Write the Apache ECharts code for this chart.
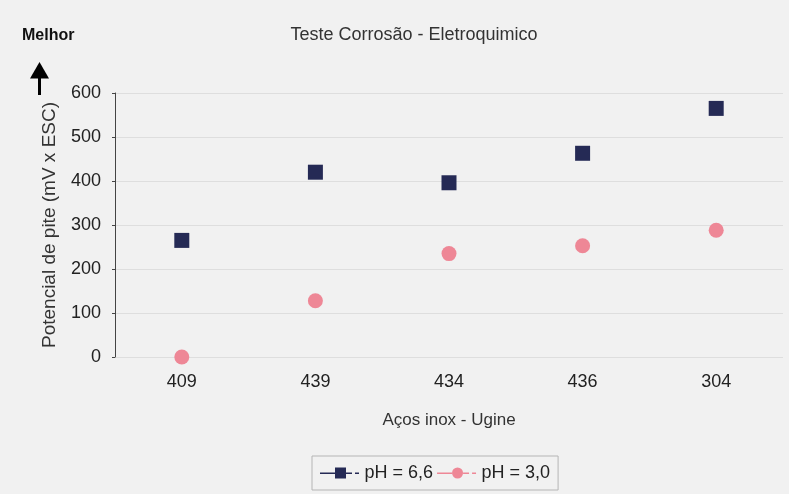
<!DOCTYPE html>
<html>
<head>
<meta charset="utf-8">
<script src="https://cdn.jsdelivr.net/npm/echarts@6/dist/echarts.min.js"></script>
<style>html,body{margin:0;padding:0;background:#f1f1f1;}#c{width:789px;height:494px;}</style>
</head>
<body>
<div id="c"></div>
<script>
const categories = ['409', '439', '434', '436', '304'];
const ph66 = [265, 420, 396, 463, 565];
const ph30 = [0, 128, 235, 253, 288];
const yTicks = [0, 100, 200, 300, 400, 500, 600];

const chart = echarts.init(document.getElementById('c'));
const txt = '#222';
const font = 'Liberation Sans, Arial, sans-serif';
chart.setOption({
  backgroundColor: '#f1f1f1',
  animation: false,
  textStyle: { fontFamily: font },
  title: {
    text: 'Teste Corrosão - Eletroquimico',
    left: 409, top: 21, textAlign: 'center',
    textStyle: { fontSize: 18, fontWeight: 'normal', color: '#333', fontFamily: font }
  },
  grid: { left: 115, right: 6, top: 93, bottom: 137 },
  xAxis: {
    type: 'category', data: categories,
    name: 'Aços inox - Ugine', nameLocation: 'middle', nameGap: 55,
    nameTextStyle: { fontSize: 17, color: '#333' },
    axisLine: { show: false },
    axisTick: { show: false },
    axisLabel: { fontSize: 18, color: txt, margin: 16 },
    splitLine: { show: false }
  },
  yAxis: {
    type: 'value', min: yTicks[0], max: yTicks[yTicks.length - 1], interval: 100,
    name: 'Potencial de pite (mV x ESC)', nameLocation: 'middle', nameGap: 56,
    nameTextStyle: { fontSize: 19, color: '#333' },
    axisLine: { show: true, lineStyle: { color: '#444', width: 1 } },
    axisTick: { show: true, length: 3, lineStyle: { color: '#444' } },
    axisLabel: { fontSize: 18, color: txt, margin: 14 },
    splitLine: { show: true, lineStyle: { color: '#dedede', width: 1 } }
  },
  legend: {
    bottom: 4, left: 312,
    itemWidth: 40, itemHeight: 11, itemGap: 4,
    textStyle: { fontSize: 18, color: txt },
    borderColor: '#b5b5b5', borderWidth: 1, padding: [8, 8],
    data: [
      { name: 'pH = 6,6', icon: 'path://M0,5h15v1.4h-15z M15,0h11v11h-11z M26,5h6v1.4h-6z M35,5h4v1.4h-4z' },
      { name: 'pH = 3,0', icon: 'path://M0,5h15v1.4h-15z M20.5,0a5.5,5.5 0 1,1 -0.01,0z M26,5h6v1.4h-6z M35,5h4v1.4h-4z' }
    ]
  },
  series: [
    {
      name: 'pH = 6,6', type: 'scatter', data: ph66,
      symbol: 'rect', symbolSize: 15,
      itemStyle: { color: '#252a55', opacity: 1 }
    },
    {
      name: 'pH = 3,0', type: 'scatter', data: ph30,
      symbol: 'circle', symbolSize: 15,
      itemStyle: { color: '#ee8796', opacity: 1 }
    }
  ],
  graphic: [
    { type: 'text', left: 22, top: 28, style: { text: 'Melhor', fontSize: 16, fontWeight: 'bold', fill: '#111', fontFamily: font } },
    { type: 'polygon', shape: { points: [[39.5, 62], [30, 78.5], [49, 78.5]] }, style: { fill: '#000' } },
    { type: 'rect', shape: { x: 38, y: 77, width: 3, height: 18 }, style: { fill: '#000' } },
    { type: 'line', shape: { x1: 115, y1: 357.5, x2: 783, y2: 357.5 }, style: { stroke: '#666', lineWidth: 1 } },
    { type: 'line', shape: { x1: 115, y1: 269.5, x2: 783, y2: 269.5 }, style: { stroke: '#9a9a9a', lineWidth: 1 } }
  ]
});
</script>
</body>
</html>
